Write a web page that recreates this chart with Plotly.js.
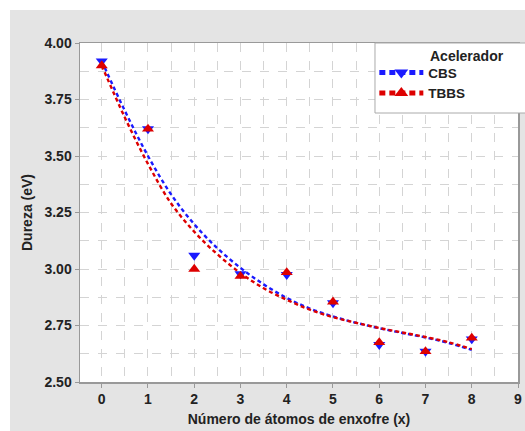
<!DOCTYPE html>
<html>
<head>
<meta charset="utf-8">
<script src="https://cdn.plot.ly/plotly-3.0.1.min.js"></script>
<style>
  html, body { margin: 0; padding: 0; background: #ffffff; overflow: hidden; width: 525px; height: 431px; }
  #chart { position: absolute; left: 10px; top: 10px; width: 545px; height: 421px; }
</style>
</head>
<body>
<div id="chart"></div>
<script>
// Measured points
const atoms = [0, 1, 2, 3, 4, 5, 6, 7, 8];
const cbsValues  = [3.92, 3.62, 3.06, 2.978, 2.975, 2.85, 2.665, 2.635, 2.69];
const tbbsValues = [3.90, 3.62, 3.00, 2.968, 2.985, 2.855, 2.675, 2.635, 2.695];

// Fitted trend curves
const fitX = [0, 0.5, 1, 1.5, 2, 2.5, 3, 3.5, 4, 4.5, 5, 5.5, 6, 6.5, 7, 7.5, 8];
const cbsFit  = [3.92, 3.70, 3.50, 3.33, 3.198, 3.092, 3.005, 2.932, 2.872, 2.825, 2.79, 2.762, 2.738, 2.717, 2.697, 2.673, 2.642];
const tbbsFit = [3.90, 3.67, 3.465, 3.29, 3.165, 3.065, 2.982, 2.915, 2.864, 2.82, 2.787, 2.762, 2.739, 2.719, 2.699, 2.676, 2.645];

const seriesNames = ['CBS', 'TBBS'];
const legendTitle = 'Acelerador';
const xTitle = 'Número de átomos de enxofre (x)';
const yTitle = 'Dureza (eV)';

const blue = '#1a1aff';
const red = '#dd0000';
const font = 'Liberation Sans, Arial, sans-serif';

const traces = [
  { x: fitX, y: cbsFit, mode: 'lines', line: { color: blue, width: 2.4, dash: '4px,3px', shape: 'spline' }, showlegend: false, hoverinfo: 'skip' },
  { x: fitX, y: tbbsFit, mode: 'lines', line: { color: red, width: 2.4, dash: '4px,3px', shape: 'spline' }, showlegend: false, hoverinfo: 'skip' },
  { x: atoms, y: cbsValues, mode: 'markers', marker: { symbol: 'triangle-down', color: blue, size: 10.5 }, showlegend: false },
  { x: atoms, y: tbbsValues, mode: 'markers', marker: { symbol: 'triangle-up', color: red, size: 10.5 }, showlegend: false },
  { x: [null], y: [null], name: seriesNames[0], mode: 'lines+markers', line: { color: blue, width: 2.2, dash: '6px,4px' }, marker: { symbol: 'triangle-down', color: blue, size: 11 } },
  { x: [null], y: [null], name: seriesNames[1], mode: 'lines+markers', line: { color: red, width: 2.2, dash: '6px,4px' }, marker: { symbol: 'triangle-up', color: red, size: 11 } }
];

const gridCol = '#d4d4d4';
const layout = {
  width: 545, height: 421,
  margin: { l: 70, r: 37, t: 33, b: 49 },
  paper_bgcolor: '#e4e4e4',
  plot_bgcolor: '#ffffff',
  font: { family: font, size: 14, color: '#222', weight: 'bold' },
  xaxis: {
    range: [-0.47, 9], tick0: 0, dtick: 1, tickmode: 'linear',
    showgrid: true, gridcolor: gridCol, griddash: 'dash', gridwidth: 1,
    minor: { dtick: 0.5, tick0: 0, showgrid: true, gridcolor: gridCol, griddash: 'dash', gridwidth: 1 },
    showline: true, linecolor: '#999', linewidth: 1.5, mirror: true,
    ticks: 'outside', ticklen: 4, tickcolor: '#999',
    zeroline: false,
    tickfont: { family: font, size: 14, weight: 'bold', color: '#222' },
    title: { text: xTitle, font: { family: font, size: 14, weight: 'bold', color: '#222' }, standoff: 8 }
  },
  yaxis: {
    range: [2.5, 4.0], tick0: 2.5, dtick: 0.25, tickmode: 'linear', tickformat: '.2f',
    showgrid: true, gridcolor: gridCol, griddash: 'dash', gridwidth: 1,
    minor: { dtick: 0.125, tick0: 2.5, showgrid: true, gridcolor: gridCol, griddash: 'dash', gridwidth: 1 },
    showline: true, linecolor: '#999', linewidth: 1.5, mirror: true,
    ticks: 'outside', ticklen: 4, tickcolor: '#999',
    zeroline: false,
    tickfont: { family: font, size: 14, weight: 'bold', color: '#222' },
    title: { text: yTitle, font: { family: font, size: 14, weight: 'bold', color: '#222' }, standoff: 8 }
  },
  shapes: [{
    type: 'rect', xref: 'paper', yref: 'paper', layer: 'above',
    x0: 0.6735, x1: 1.2, y0: 0.7935, y1: 1.0,
    fillcolor: '#ffffff', line: { color: '#aaaaaa', width: 1 }
  }],
  annotations: [{
    text: legendTitle, xref: 'paper', yref: 'paper', x: 0.7945, y: 0.9617,
    xanchor: 'left', yanchor: 'middle', showarrow: false,
    font: { family: font, size: 14, weight: 'bold', color: '#222' }
  }],
  legend: {
    x: 0.672, y: 0.958, xanchor: 'left', yanchor: 'top',
    bgcolor: 'rgba(0,0,0,0)', borderwidth: 0,
    font: { family: font, size: 13.5, weight: 'bold', color: '#222' },
    itemwidth: 44,
    tracegroupgap: 0, itemsizing: 'constant'
  },
  showlegend: true
};

Plotly.newPlot('chart', traces, layout, { displayModeBar: false, staticPlot: true });
</script>
</body>
</html>
